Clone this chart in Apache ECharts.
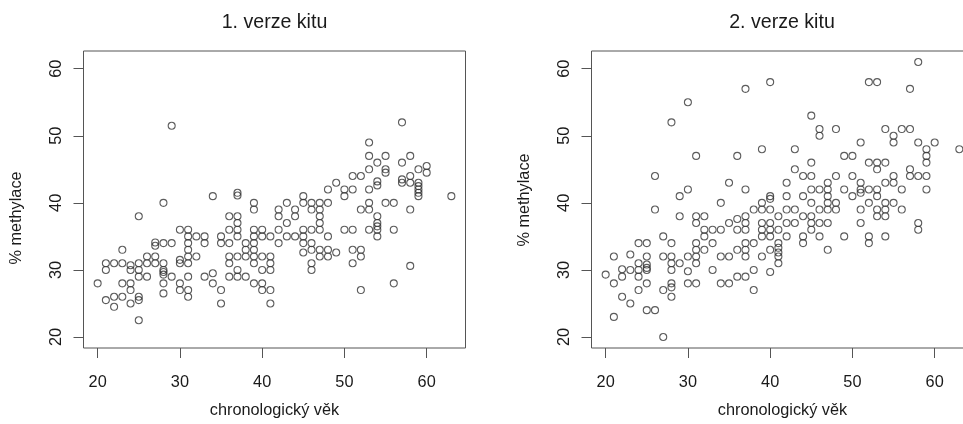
<!DOCTYPE html>
<html>
<head>
<meta charset="utf-8">
<script src="https://cdn.jsdelivr.net/npm/echarts@6/dist/echarts.min.js"></script>
<style>
html,body{margin:0;padding:0;background:#fff;}
#c{width:963px;height:424px;}
</style>
</head>
<body>
<div id="c"></div>
<script>
// ---- data (chronological age, % methylation) ----
const ages1 = [
20,
21,21,21,
22,22,22,
23,23,23,23,
24,24,24,24,24,
25,25,25,25,25,25,25,
26,26,26,
27,27,27,27,
28,28,28,28,28,28,28,28,
29,29,29,
30,30,30,30,30,
31,31,31,31,31,31,31,31,31,
32,32,
33,33,33,
34,34,34,
35,35,35,35,
36,36,36,36,36,36,
37,37,37,37,37,37,37,37,37,
38,38,38,38,
39,39,39,39,39,39,39,39,39,
40,40,40,40,40,40,
41,41,41,41,41,41,
42,42,42,42,
43,43,43,
44,44,44,
45,45,45,45,45,45,
46,46,46,46,46,46,46,
47,47,47,47,47,47,47,
48,48,48,48,48,
49,49,
50,50,50,
51,51,51,51,51,
52,52,52,52,52,
53,53,53,53,53,53,53,
54,54,54,54,54,54,54,54,
55,55,55,55,
56,56,56,
57,57,57,57,
58,58,58,58,58,
59,59,59,59,59,59,
60,60,
63
];
const meth1 = [
28,
31,30,25.5,
31,26,24.5,
33,31,28,26,
30.7,30,28,27,25,
38,31,30,29,26,25.5,22.5,
32,31,29,
34.1,33.6,32,31,
40,34,31,30,29.7,29.3,28,26.5,
51.5,34,29,
36,31.5,31,28,27,
36,35,34,33,32,31,29,27,26,
35,32,
35,34,29,
41,29.5,28,
35,34,27,25,
38,36,34,32,31,29,
41.5,41.1,38,37,36,35,32,30,29,
34,33,32,29,
40,39,36,35,34,33,32,31,28,
36,35,32,30,28,27,
35,32,31,30,27,25,
39,38,36,34,
40,37,35,
39,38,35,
41,40,36,35,34,32.6,
40,39,36,34,33,31,30,
40,39,38,37,36,33,32,
42,40,35,33,32,
43,32.6,
42,41,36,
44,42,36,33,31,
44,39,33,32,27,
49,47,45,42,40,39,36,
46,43.2,42.6,38,37,36.5,36,35,
47,45,44.5,40,
40,36,28,
52,46,43.5,43,
47,44,43,39,30.6,
45,43,42.5,42,41.5,41,
45.5,44.5,
41
];
const ages2 = [
20,
21,21,21,
22,22,22,
23,23,23,
24,24,24,24,24,
25,25,25,25,25,25,25,
26,26,26,
27,27,27,27,
28,28,28,28,28,28,28,28,
29,29,29,
30,30,30,30,30,
31,31,31,31,31,31,31,31,
32,32,32,32,
33,33,33,
34,34,34,34,
35,35,35,35,
36,36,36,36,36,
37,37,37,37,37,37,37,37,37,
38,38,38,38,
39,39,39,39,39,39,39,
40,40,40,40,40,40,40,40,40,
41,41,41,41,41,41,41,
42,42,42,42,42,
43,43,43,43,
44,44,44,44,44,
45,45,45,45,45,45,45,45,
46,46,46,46,46,46,
47,47,47,47,47,47,47,
48,48,48,48,
49,49,49,
50,50,50,
51,51,51,51,51,51,
52,52,52,52,52,52,
53,53,53,53,53,53,53,
54,54,54,54,54,54,54,
55,55,55,55,55,
56,56,56,
57,57,57,57,
58,58,58,58,58,
59,59,59,59,59,
60,
63
];
const meth2 = [
29.3,
32,28,23,
30.1,29,26,
32.3,30,25,
34,31,30,29,27,
34,32,30.8,30.3,30,28,24,
44,39,24,
35,32,27,20,
52,34,32,31,30,28,27.4,26,
41,38,31,
55,42,32,29.8,28,
47,38,37,34,33,32,31,28,
38,36,35,33,
36,34,30,
40,36,32,28,
43,37,32,28,
47,37.6,36,33,29,
57,42,38,37,36,34,33,32,29,
39,34,30,27,
48,40,39,37,36,35,32,
58,41,40.6,39,37,36,35,33,29.7,
38,36,34,33.3,32.6,32,31,
43,41,39,37,35,
48,45,39,37,
44,41,38,35,34,
53,46,44,42,40,38,37,36,
51,50,42,39,37,35,
43,42,41,40,39,37,33,
51,44,40,39,
47,42,35,
47,44,41,
49,43,42,41.5,39,37,
58,46,42,40,35,34,
58,46,45,42,41,39,38,
51,46,43,40,39,38,35,
50,49,44,43,40,
51,42,39,
57,51,45,44,
61,49,44,37,36,
48,47,46,44,42,
49,
48
];
const tickValues = [20, 30, 40, 50, 60];
const titles = ['1. verze kitu', '2. verze kitu'];
const xName = 'chronologický věk';
const yName = '% methylace';

// ---- layout ----
const FONT = '"Liberation Sans", Arial, sans-serif';
const TXT = '#1a1a1a';
const AX = '#555';
const grids = [
  {left: 83.5, top: 51, width: 382, height: 297},
  {left: 591.5, top: 51, width: 382, height: 297}
];
function pairs(a, b){ return a.map((v,i)=>[v, b[i]]); }

const xAxes = grids.map((g,i)=>({
  type:'value', gridIndex:i, min:18.28, max:64.72,
  axisLine:{show:false},
  splitLine:{show:false},
  axisTick:{show:true, inside:false, length:10, lineStyle:{color:AX, width:1}, customValues:tickValues},
  axisLabel:{show:true, margin:27, color:TXT, fontFamily:FONT, fontSize:16.3, customValues:tickValues},
  name:xName, nameLocation:'middle', nameGap:55,
  nameTextStyle:{color:TXT, fontFamily:FONT, fontSize:16.3}
}));
const yAxes = grids.map((g,i)=>({
  type:'value', gridIndex:i, min:18.36, max:62.64,
  axisLine:{show:false},
  splitLine:{show:false},
  axisTick:{show:true, inside:false, length:10, lineStyle:{color:AX, width:1}, customValues:tickValues},
  axisLabel:{show:true, rotate:90, margin:19, color:TXT, fontFamily:FONT, fontSize:16.3, customValues:tickValues}
}));

const chart = echarts.init(document.getElementById('c'), null, {renderer:'canvas'});
chart.setOption({
  animation:false,
  backgroundColor:'#fff',
  grid: grids.map(g=>Object.assign({show:true, borderColor:AX, borderWidth:1, backgroundColor:'transparent', containLabel:false, outerBoundsMode:'none'}, g)),
  xAxis: xAxes,
  yAxis: yAxes,
  series: [
    {type:'scatter', xAxisIndex:0, yAxisIndex:0, data:pairs(ages1, meth1),
     symbol:'circle', symbolSize:7, itemStyle:{color:'rgba(0,0,0,0)', borderColor:'#333', borderWidth:1.1}, silent:true},
    {type:'scatter', xAxisIndex:1, yAxisIndex:1, data:pairs(ages2, meth2),
     symbol:'circle', symbolSize:7, itemStyle:{color:'rgba(0,0,0,0)', borderColor:'#333', borderWidth:1.1}, silent:true}
  ],
  graphic: [
    {type:'text', x:274.5, y:23, style:{text:titles[0], align:'center', verticalAlign:'middle', fill:TXT, font:'19.6px ' + FONT}},
    {type:'text', x:782, y:23, style:{text:titles[1], align:'center', verticalAlign:'middle', fill:TXT, font:'19.6px ' + FONT}},
    {type:'text', x:17, y:218, rotation:Math.PI/2, style:{text:yName, align:'center', verticalAlign:'middle', fill:TXT, font:'16.3px ' + FONT}},
    {type:'text', x:525, y:200, rotation:Math.PI/2, style:{text:yName, align:'center', verticalAlign:'middle', fill:TXT, font:'16.3px ' + FONT}}
  ]
});
</script>
</body>
</html>
